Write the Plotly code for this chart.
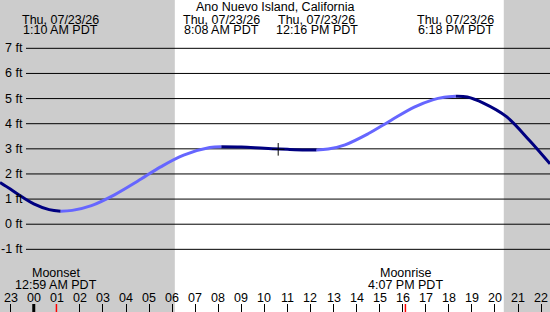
import plotly.graph_objects as go

# ---- data ----
station = "Ano Nuevo Island, California"
date_label = "Thu, 07/23/26"

# tide curve samples (hours relative to midnight 07/23, height in ft)
hours = [-1.464, -1.0, -0.5, 0.0, 0.667, 1.167, 1.667, 2.5, 3.5, 4.5, 5.5, 6.5,
         7.633, 8.133, 9.0, 10.0, 11.0, 11.767, 12.267, 12.767, 13.5, 14.5,
         15.5, 16.5, 17.3, 17.8, 18.3, 18.8, 19.5, 20.5, 21.5, 22.387]
heights = [1.66, 1.39, 1.08, 0.81, 0.58, 0.52, 0.55, 0.74, 1.17, 1.71, 2.28, 2.75,
           3.05, 3.08, 3.07, 3.02, 2.98, 2.955, 2.95, 2.99, 3.16, 3.60,
           4.14, 4.66, 4.95, 5.05, 5.09, 5.06, 4.82, 4.28, 3.33, 2.40]

# extremes (high / low) with their labels
extreme_hours = [1.167, 8.133, 12.267, 18.3]
extreme_times = ["1:10 AM PDT", "8:08 AM PDT", "12:16 PM PDT", "6:18 PM PDT"]

# current-time marker
now_hour = 10.6
now_height = 2.98

# sun and moon
sunrise_hour = 6.117
sunset_hour = 20.383
moon_hours = [0.983, 16.117]
moon_names = ["Moonset", "Moonrise"]
moon_times = ["12:59 AM PDT", "4:07 PM PDT"]

# axis
tick_hours = list(range(-1, 23))
tick_labels = ["23"] + ["%02d" % h for h in range(0, 23)]
ft_levels = [-1, 0, 1, 2, 3, 4, 5, 6, 7]
ft_labels = ["%d ft" % v for v in ft_levels]

# ---- figure ----
W, H = 550, 312
x_range = [-1.464, 22.387]
y_range = [-3.494, 8.923]
DARK = "#000080"
LIGHT = "#6666ff"
FONT = dict(family="Liberation Sans, Arial, sans-serif", size=12.5, color="black")


def py(px):
    return 1 - px / H


fig = go.Figure()

# split curve at extremes; falling segments dark, rising light
cut_idx = [0] + [hours.index(e) for e in extreme_hours] + [len(hours) - 1]
for a, b in zip(cut_idx[:-1], cut_idx[1:]):
    xs = hours[a:b + 1]
    ys = heights[a:b + 1]
    col = DARK if ys[-1] < ys[0] else LIGHT
    fig.add_trace(go.Scatter(x=xs, y=ys, mode="lines",
                             line=dict(color=col, width=3, shape="spline", smoothing=1.0),
                             hoverinfo="skip"))

fig.add_trace(go.Scatter(x=[now_hour], y=[now_height], mode="markers",
                         marker=dict(symbol="cross-thin", size=9,
                                     line=dict(color="black", width=1)),
                         hoverinfo="skip"))

shapes = []
# night shading
shapes.append(dict(type="rect", xref="x", yref="paper", x0=x_range[0], x1=sunrise_hour,
                   y0=0, y1=1, fillcolor="#cccccc", line=dict(width=0), layer="below"))
shapes.append(dict(type="rect", xref="x", yref="paper", x0=sunset_hour, x1=x_range[1],
                   y0=0, y1=1, fillcolor="#cccccc", line=dict(width=0), layer="below"))
# horizontal ft lines
for v in ft_levels:
    shapes.append(dict(type="line", xref="paper", yref="y", x0=26 / W, x1=1, y0=v, y1=v,
                       line=dict(color="black", width=1), layer="below"))
# midnight tick (thick)
shapes.append(dict(type="line", xref="x", yref="paper", x0=0, x1=0, y0=0, y1=8 / H,
                   line=dict(color="black", width=3)))
# moon ticks (red)
for mh in moon_hours:
    shapes.append(dict(type="line", xref="x", yref="paper", x0=mh, x1=mh, y0=0, y1=8 / H,
                       line=dict(color="red", width=1.5)))

ann = []
ann.append(dict(text=station, x=0.5, xref="paper", y=py(6.5), yref="paper",
                showarrow=False, font=FONT, xanchor="center", yanchor="middle"))
for eh, et in zip(extreme_hours, extreme_times):
    ann.append(dict(text=date_label, x=eh, xref="x", y=py(19.5), yref="paper",
                    showarrow=False, font=FONT, xanchor="center", yanchor="middle"))
    ann.append(dict(text=et, x=eh, xref="x", y=py(30.5), yref="paper",
                    showarrow=False, font=FONT, xanchor="center", yanchor="middle"))
for mh, mn, mt in zip(moon_hours, moon_names, moon_times):
    ann.append(dict(text=mn, x=mh, xref="x", y=py(273), yref="paper",
                    showarrow=False, font=FONT, xanchor="center", yanchor="middle"))
    ann.append(dict(text=mt, x=mh, xref="x", y=py(285), yref="paper",
                    showarrow=False, font=FONT, xanchor="center", yanchor="middle"))
for th, tl in zip(tick_hours, tick_labels):
    ann.append(dict(text=tl, x=th, xref="x", y=py(297.5), yref="paper",
                    showarrow=False, font=FONT, xanchor="center", yanchor="middle"))
for v, lab in zip(ft_levels, ft_labels):
    ann.append(dict(text=lab, x=24.5 / W, xref="paper", y=v, yref="y",
                    showarrow=False, font=FONT, xanchor="right", yanchor="middle"))

fig.update_layout(
    width=W, height=H, margin=dict(l=0, r=0, t=0, b=0, pad=0),
    paper_bgcolor="white", plot_bgcolor="white", showlegend=False,
    hovermode=False, shapes=shapes, annotations=ann,
    xaxis=dict(range=x_range, showgrid=False, zeroline=False, showline=False,
               ticks="inside", ticklen=8, tickwidth=1, tickcolor="black",
               tickvals=tick_hours, showticklabels=False, fixedrange=True),
    yaxis=dict(range=y_range, showgrid=False, zeroline=False, showline=False,
               showticklabels=False, ticks="", fixedrange=True),
)

fig.write_html("out.html", config={"displayModeBar": False})
